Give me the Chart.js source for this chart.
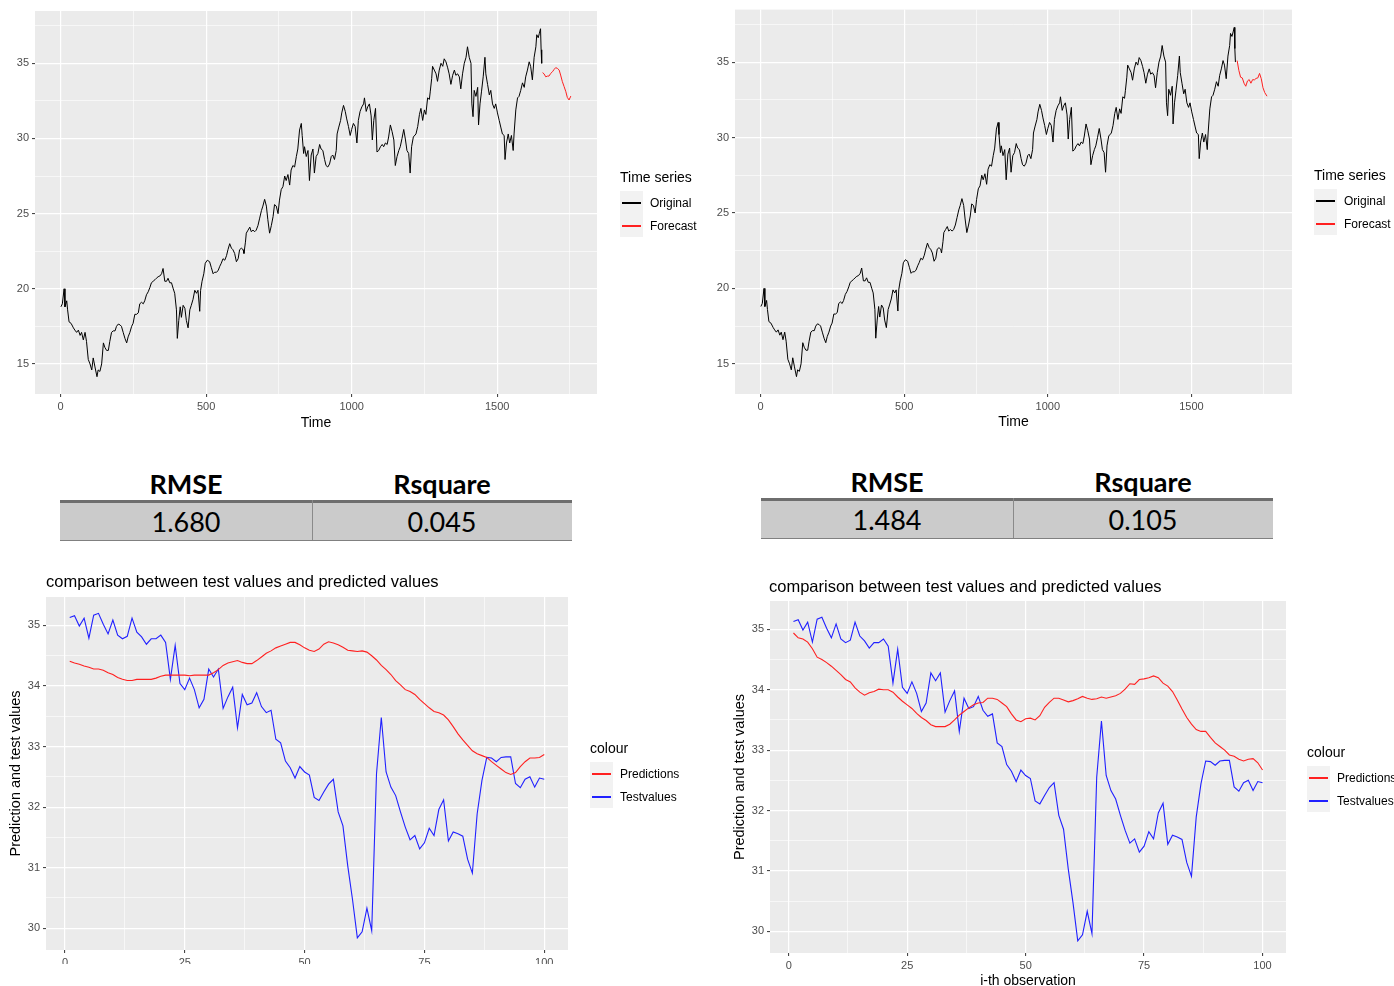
<!DOCTYPE html>
<html>
<head>
<meta charset="utf-8">
<script src="https://cdn.jsdelivr.net/npm/chart.js@4.4.0/dist/chart.umd.min.js"></script>
<style>
  body { margin: 0; width: 1394px; height: 986px; overflow: hidden; background: #fff; position: relative;
         font-family: "Liberation Sans", Arial, sans-serif; }
  canvas { position: absolute; }
  .txt { position: absolute; white-space: nowrap; color: #000; }
  .key { position: absolute; width: 23px; height: 23px; background: #F2F2F2; }
  .key i { position: absolute; left: 2px; right: 2px; top: 11px; height: 1.5px; }
  .tbl { position: absolute; font-family: Lato, "Open Sans", sans-serif; }
</style>
</head>
<body>
<canvas id="tsLeft" width="700" height="440" style="left:0;top:0"></canvas>
<canvas id="tsRight" width="694" height="440" style="left:700px;top:0"></canvas>
<canvas id="cmpLeft" width="700" height="404" style="left:0;top:560px"></canvas>
<canvas id="cmpRight" width="670" height="440" style="left:724px;top:560px"></canvas>

<script>
// ---- time series (index, price) ----
const origTime = [1, 6, 12, 15, 21, 24, 29, 36, 44, 49, 55, 61, 67, 72, 78, 84, 89, 95, 101, 107,
  112, 118, 125, 129, 135, 141, 147, 152, 158, 164, 169, 175, 181, 187, 192, 198, 204, 209, 215, 221,
  227, 232, 238, 244, 249, 255, 261, 267, 272, 278, 284, 289, 295, 301, 307, 312, 318, 324, 329, 335,
  341, 347, 352, 358, 364, 369, 375, 381, 387, 392, 398, 401, 406, 411, 415, 421, 427, 432, 438, 444,
  449, 455, 461, 467, 472, 478, 481, 486, 492, 497, 504, 512, 518, 524, 529, 535, 541, 547, 552, 558,
  564, 570, 575, 581, 587, 592, 598, 604, 610, 615, 621, 627, 630, 635, 638, 644, 650, 655, 661, 667,
  672, 678, 684, 690, 695, 701, 707, 712, 718, 724, 730, 735, 741, 747, 752, 758, 764, 770, 775, 781,
  787, 792, 798, 804, 810, 815, 821, 827, 830, 835, 838, 844, 850, 855, 861, 867, 872, 878, 884, 890,
  895, 901, 907, 912, 918, 924, 930, 935, 941, 947, 950, 955, 962, 966, 972, 978, 983, 989, 995, 1000,
  1006, 1012, 1018, 1023, 1029, 1035, 1041, 1044, 1050, 1055, 1061, 1067, 1071, 1076, 1082, 1087, 1093, 1099, 1105, 1110,
  1116, 1122, 1127, 1133, 1139, 1145, 1150, 1156, 1162, 1167, 1173, 1179, 1185, 1190, 1196, 1201, 1206, 1212, 1221, 1227,
  1233, 1238, 1244, 1250, 1255, 1261, 1267, 1270, 1275, 1278, 1284, 1290, 1295, 1301, 1307, 1313, 1318, 1324, 1330, 1335,
  1341, 1347, 1353, 1358, 1364, 1370, 1375, 1381, 1387, 1393, 1398, 1404, 1410, 1413, 1417, 1421, 1427, 1433, 1436, 1441,
  1446, 1452, 1458, 1461, 1467, 1473, 1478, 1484, 1490, 1495, 1501, 1507, 1513, 1518, 1524, 1527, 1532, 1538, 1543, 1549,
  1555, 1558, 1564, 1570, 1575, 1581, 1587, 1593, 1598, 1604, 1610, 1615, 1621, 1627, 1633, 1636, 1641, 1645, 1649, 1651, 1653];
const origValue = [18.8, 19.0, 20.0, 18.8, 19.2, 18.6, 17.8, 17.7, 17.4, 17.25, 17.1, 17.25, 16.9, 17.1, 16.6, 17.1, 16.5, 15.3, 15.0, 14.6,
  15.4, 14.8, 14.15, 14.6, 14.5, 15.0, 16.4, 16.1, 15.9, 15.9, 16.5, 17.1, 17.2, 17.2, 17.5, 17.65, 17.6, 17.5, 17.1, 16.7,
  16.4, 16.8, 17.1, 17.5, 17.7, 18.3, 18.3, 18.4, 19.0, 19.1, 19.0, 19.2, 19.6, 19.8, 20.1, 20.4, 20.5, 20.6, 20.7, 20.8,
  20.85, 21.0, 21.35, 20.5, 20.5, 20.7, 20.4, 20.4, 20.0, 19.7, 18.6, 16.7, 17.9, 18.8, 18.1, 18.9, 18.7, 17.9, 17.4, 18.6,
  18.9, 19.3, 19.9, 19.7, 19.9, 18.5, 19.9, 20.5, 21.0, 21.7, 21.9, 21.8, 21.4, 21.0, 21.1, 21.1, 21.2, 21.5, 21.7, 22.0,
  21.9, 22.2, 22.6, 23.0, 22.7, 22.6, 22.35, 21.8, 22.0, 22.6, 22.7, 22.6, 22.35, 23.1, 23.7, 23.9, 24.1, 23.8, 23.9, 23.8,
  23.9, 24.2, 24.7, 25.2, 25.5, 25.95, 25.5, 24.6, 23.7, 24.2, 24.8, 25.6, 25.5, 25.0, 25.9, 26.6, 26.8, 27.5, 27.2, 27.6,
  26.9, 27.9, 28.2, 28.1, 28.8, 29.3, 30.56, 31.0, 30.2, 29.0, 29.45, 28.8, 29.2, 27.2, 28.9, 29.3, 27.7, 28.8, 29.0, 29.6,
  29.3, 29.2, 28.6, 28.2, 28.1, 28.3, 28.8, 28.9, 28.6, 29.2, 30.3, 30.7, 31.2, 31.7, 32.2, 31.8, 31.3, 30.8, 30.2, 30.6,
  31.0, 30.8, 29.7, 31.2, 31.8, 32.1, 32.3, 32.7, 31.8, 32.1, 32.3, 31.5, 29.9, 31.2, 32.0, 29.1, 29.2, 29.45, 29.6, 29.45,
  29.7, 29.6, 30.1, 30.9, 30.45, 29.9, 28.2, 28.8, 29.2, 29.45, 30.0, 30.6, 29.9, 29.2, 29.0, 27.7, 29.45, 30.1, 30.3, 30.8,
  31.6, 32.0, 31.2, 31.9, 31.6, 32.7, 32.6, 33.1, 34.0, 34.8, 34.55, 34.3, 33.8, 34.55, 35.0, 34.8, 35.3, 35.1, 34.7, 34.3,
  33.6, 34.2, 34.55, 34.2, 34.3, 34.1, 33.3, 34.3, 35.0, 35.4, 36.1, 35.4, 35.0, 32.3, 31.45, 33.2, 32.8, 33.4, 30.9, 32.3,
  33.1, 34.1, 35.4, 34.3, 33.6, 32.9, 33.2, 32.3, 32.0, 32.3, 31.7, 31.2, 30.7, 30.3, 30.2, 28.6, 29.7, 30.3, 29.7, 30.2,
  29.2, 30.3, 31.9, 32.7, 32.8, 33.2, 33.7, 33.4, 34.1, 34.55, 35.1, 34.8, 33.9, 35.4, 36.1, 36.9, 36.7, 37.0, 37.3, 35.9, 35.0];

// forecasts of the two models
const fcTimeLeft = [1656, 1661, 1667, 1673, 1678, 1684, 1690, 1696, 1701, 1707, 1713, 1718, 1724, 1730, 1736, 1741, 1747, 1753];
const fcValueLeft = [34.38, 34.3, 34.1, 34.15, 34.15, 34.33, 34.44, 34.6, 34.71, 34.66, 34.55, 34.22, 33.78, 33.45, 33.11, 32.73, 32.56, 32.82];
const fcTimeRight = [1659, 1665, 1671, 1677, 1683, 1689, 1695, 1701, 1707, 1713, 1719, 1725, 1731, 1737, 1743, 1749, 1755, 1763];
const fcValueRight = [35.1, 34.45, 34.0, 33.95, 33.6, 33.4, 33.75, 33.84, 33.6, 33.84, 33.82, 33.92, 33.95, 34.25, 33.9, 33.3, 32.98, 32.74];

// ---- test set vs predictions ----
const testValues = [35.13, 35.16, 34.99, 35.12, 34.79, 35.17, 35.2, 35.02, 34.86, 35.09,
  34.84, 34.78, 34.82, 35.12, 34.89, 34.81, 34.69, 34.78, 34.78, 34.84,
  34.72, 34.11, 34.67, 34.04, 33.94, 34.13, 33.94, 33.64, 33.78, 34.28,
  34.15, 34.28, 33.63, 33.82, 33.98, 33.31, 33.86, 33.69, 33.72, 33.89,
  33.66, 33.56, 33.6, 33.12, 33.06, 32.76, 32.65, 32.48, 32.67, 32.58,
  32.53, 32.16, 32.11, 32.25, 32.38, 32.46, 31.92, 31.69, 31.03, 30.47,
  29.84, 29.94, 30.33, 29.96, 32.55, 33.48, 32.58, 32.33, 32.19, 31.92,
  31.67, 31.46, 31.53, 31.31, 31.41, 31.65, 31.53, 31.96, 32.12, 31.44,
  31.59, 31.56, 31.52, 31.14, 30.91, 31.89, 32.44, 32.82, 32.81, 32.75,
  32.82, 32.83, 32.83, 32.39, 32.32, 32.46, 32.5, 32.33, 32.48, 32.46];
const predLeft = [34.41, 34.38, 34.36, 34.33, 34.31, 34.28, 34.28, 34.26, 34.22, 34.19,
  34.14, 34.11, 34.09, 34.09, 34.11, 34.11, 34.11, 34.11, 34.13, 34.16,
  34.18, 34.18, 34.18, 34.18, 34.18, 34.17, 34.18, 34.18, 34.18, 34.18,
  34.22, 34.27, 34.34, 34.38, 34.4, 34.42, 34.39, 34.37, 34.37, 34.42,
  34.48, 34.54, 34.58, 34.63, 34.66, 34.69, 34.72, 34.72, 34.68, 34.63,
  34.59, 34.57, 34.61, 34.69, 34.73, 34.71, 34.68, 34.64, 34.59, 34.58,
  34.57, 34.58, 34.56, 34.5, 34.43, 34.34, 34.27, 34.19, 34.09, 34.02,
  33.94, 33.91, 33.86, 33.78, 33.71, 33.64, 33.58, 33.56, 33.52, 33.44,
  33.33, 33.21, 33.11, 33.02, 32.93, 32.88, 32.85, 32.82, 32.75, 32.69,
  32.63, 32.57, 32.54, 32.57, 32.67, 32.75, 32.81, 32.81, 32.82, 32.87];
const predRight = [34.94, 34.86, 34.84, 34.79, 34.68, 34.54, 34.5, 34.45, 34.39, 34.32,
  34.25, 34.17, 34.13, 34.03, 33.96, 33.91, 33.95, 33.97, 34.01, 34.0,
  34.0, 33.96, 33.88, 33.81, 33.75, 33.69, 33.61, 33.54, 33.49, 33.42,
  33.39, 33.39, 33.39, 33.43, 33.5, 33.58, 33.64, 33.7, 33.75, 33.78,
  33.79, 33.86, 33.86, 33.84, 33.78, 33.72, 33.6, 33.5, 33.47, 33.52,
  33.53, 33.5, 33.57, 33.71, 33.79, 33.86, 33.86, 33.83, 33.8, 33.82,
  33.85, 33.89, 33.86, 33.84, 33.85, 33.88, 33.86, 33.88, 33.9, 33.94,
  34.01, 34.1, 34.09, 34.17, 34.18, 34.2, 34.23, 34.2, 34.11, 34.06,
  33.97, 33.83, 33.68, 33.54, 33.43, 33.34, 33.31, 33.31, 33.21, 33.12,
  33.06, 33.0, 32.92, 32.9, 32.85, 32.82, 32.85, 32.86, 32.79, 32.67];

// error metrics of the two models
const metricNames = ['RMSE', 'Rsquare'];
const rmseValues = [1.680, 1.484];
const rsquareValues = [0.045, 0.105];

// axis ticks (minor ones get a grid line but no label)
const tsXTicks = [0, 250, 500, 750, 1000, 1250, 1500, 1750];
const tsXLabels = [0, 500, 1000, 1500];
const tsYTicks = [15, 17.5, 20, 22.5, 25, 27.5, 30, 32.5, 35, 37.5];
const tsYLabels = [15, 20, 25, 30, 35];
const cmpXTicks = [0, 12.5, 25, 37.5, 50, 62.5, 75, 87.5, 100];
const cmpXLabels = [0, 25, 50, 75, 100];
const cmpYTicks = [30, 30.5, 31, 31.5, 32, 32.5, 33, 33.5, 34, 34.5, 35];
const cmpYLabels = [30, 31, 32, 33, 34, 35];

const FONT = '"Liberation Sans", Arial, sans-serif';
const BLACK = '#000000';
const RED = '#FF2020';
const BLUE = '#2020FF';

function pairs(xs, ys) {
  return xs.map((x, i) => ({ x: x, y: ys[i] }));
}

// grey panel behind the grid
const panelBackground = {
  id: 'panelBackground',
  beforeDraw(chart) {
    const { ctx, chartArea: a } = chart;
    ctx.save();
    ctx.fillStyle = '#EBEBEB';
    ctx.fillRect(a.left, a.top, a.right - a.left, a.bottom - a.top);
    ctx.restore();
  }
};

function ggScale(min, max, ticks, labels, size, title) {
  const isMajor = v => labels.includes(v);
  return {
    type: 'linear',
    min: min,
    max: max,
    afterBuildTicks: axis => { axis.ticks = ticks.map(v => ({ value: v })); },
    afterFit: axis => {
      if (axis.isHorizontal()) axis.height = size; else axis.width = size;
    },
    border: { display: false },
    grid: {
      color: '#FFFFFF',
      lineWidth: c => isMajor(c.tick.value) ? 1.2 : 0.6,
      tickLength: 3,
      tickWidth: 1,
      tickColor: c => isMajor(c.tick.value) ? '#333333' : 'rgba(0,0,0,0)'
    },
    ticks: {
      autoSkip: false,
      maxRotation: 0,
      minRotation: 0,
      padding: 3,
      color: '#4D4D4D',
      font: { family: FONT, size: 11 },
      callback: v => isMajor(v) ? String(v) : ''
    },
    title: title ? {
      display: true,
      text: title.text,
      color: '#000000',
      font: { family: FONT, size: title.size },
      padding: title.padding
    } : { display: false }
  };
}

function drawChart(id, datasets, xScale, yScale, padding) {
  return new Chart(document.getElementById(id), {
    type: 'line',
    data: { datasets: datasets },
    options: {
      responsive: false,
      animation: false,
      devicePixelRatio: 1,
      layout: { padding: padding },
      plugins: { legend: { display: false }, tooltip: { enabled: false }, title: { display: false } },
      elements: { point: { radius: 0 }, line: { tension: 0, borderWidth: 1 } },
      scales: { x: xScale, y: yScale }
    },
    plugins: [panelBackground]
  });
}

function line(label, data, color, width) {
  return { label: label, data: data, borderColor: color, borderWidth: width, fill: false };
}

// top row: original series and forecast
drawChart('tsLeft', [
    line('Original', pairs(origTime, origValue), BLACK, 1),
    line('Forecast', pairs(fcTimeLeft, fcValueLeft), RED, 1)
  ],
  ggScale(-88, 1843, tsXTicks, tsXLabels, 46, { text: 'Time', size: 14, padding: { bottom: 8.6 } }),
  ggScale(13.0, 38.48, tsYTicks, tsYLabels, 35, null),
  { left: 0, right: 103, top: 11, bottom: 0 });

drawChart('tsRight', [
    line('Original', pairs(origTime, origValue), BLACK, 1),
    line('Forecast', pairs(fcTimeRight, fcValueRight), RED, 1)
  ],
  ggScale(-89, 1850, tsXTicks, tsXLabels, 46, { text: 'Time', size: 14, padding: { bottom: 9.6 } }),
  ggScale(13.0, 38.48, tsYTicks, tsYLabels, 35, null),
  { left: 0, right: 102, top: 8, bottom: 0 });

// bottom row: predictions against the test values
const obs = testValues.map((_, i) => i + 1);

drawChart('cmpLeft', [
    line('Predictions', pairs(obs, predLeft), RED, 1.1),
    line('Testvalues', pairs(obs, testValues), BLUE, 1.1)
  ],
  ggScale(-3.95, 104.95, cmpXTicks, cmpXLabels, 14, null),
  ggScale(29.64, 35.47, cmpYTicks, cmpYLabels, 46, { text: 'Prediction and test values', size: 14.5, padding: { top: 7 } }),
  { left: 0, right: 132, top: 37, bottom: 0 });

drawChart('cmpRight', [
    line('Predictions', pairs(obs, predRight), RED, 1.1),
    line('Testvalues', pairs(obs, testValues), BLUE, 1.1)
  ],
  ggScale(-3.95, 104.95, cmpXTicks, cmpXLabels, 47, { text: 'i-th observation', size: 14, padding: { bottom: 10.9 } }),
  ggScale(29.64, 35.47, cmpYTicks, cmpYLabels, 46, { text: 'Prediction and test values', size: 14.5, padding: { top: 7 } }),
  { left: 0, right: 108, top: 41, bottom: 0 });

// ---- text, legends and tables drawn as html ----
function addText(text, left, centerY, size, extra) {
  const d = document.createElement('div');
  d.className = 'txt';
  d.textContent = text;
  d.style.left = left + 'px';
  d.style.fontSize = size + 'px';
  d.style.lineHeight = Math.round(size * 1.2) + 'px';
  d.style.top = (centerY - Math.round(size * 1.2) / 2) + 'px';
  if (extra) Object.assign(d.style, extra);
  document.body.appendChild(d);
  return d;
}

function addLegend(left, titleY, title, labels, colors) {
  addText(title, left, titleY, 14);
  labels.forEach((label, i) => {
    const top = titleY + 14 + i * 23;
    const key = document.createElement('div');
    key.className = 'key';
    key.style.left = left + 'px';
    key.style.top = top + 'px';
    const seg = document.createElement('i');
    seg.style.background = colors[i];
    key.appendChild(seg);
    document.body.appendChild(key);
    addText(label, left + 30, top + 12, 12);
  });
}

addLegend(620, 177, 'Time series', ['Original', 'Forecast'], [BLACK, RED]);
addLegend(1314, 175, 'Time series', ['Original', 'Forecast'], [BLACK, RED]);
addLegend(590, 748, 'colour', ['Predictions', 'Testvalues'], [RED, BLUE]);
addLegend(1307, 752, 'colour', ['Predictions', 'Testvalues'], [RED, BLUE]);

addText('comparison between test values and predicted values', 46, 581, 16.5);
addText('comparison between test values and predicted values', 769, 586, 16.5);

function addBox(left, top, width, height, bg, extra) {
  const d = document.createElement('div');
  d.className = 'tbl';
  Object.assign(d.style, { left: left + 'px', top: top + 'px', width: width + 'px', height: height + 'px', background: bg });
  if (extra) Object.assign(d.style, extra);
  document.body.appendChild(d);
  return d;
}

function addTable(left, headerY, ruleTop, values) {
  const widths = [252, 260];
  const cellTop = ruleTop + 3;
  let x = left;
  metricNames.forEach((name, i) => {
    const head = addBox(x, headerY - 17, widths[i], 34, 'transparent',
      { textAlign: 'center', fontWeight: 'bold', fontSize: '27px', lineHeight: '34px', color: '#000' });
    head.textContent = name;
    const cell = addBox(x, cellTop, widths[i], 37, '#CBCBCB',
      { textAlign: 'center', fontSize: '27px', lineHeight: '37px', color: '#000' });
    cell.textContent = values[i].toFixed(3);
    x += widths[i];
  });
  addBox(left, ruleTop, 512, 3, '#6E6E6E');
  addBox(left + widths[0], ruleTop, 1, 40, '#8A8A8A');
  addBox(left, cellTop + 37, 512, 1, '#808080');
}

addTable(60, 484, 500, [rmseValues[0], rsquareValues[0]]);
addTable(761, 482, 498, [rmseValues[1], rsquareValues[1]]);
</script>
</body>
</html>
